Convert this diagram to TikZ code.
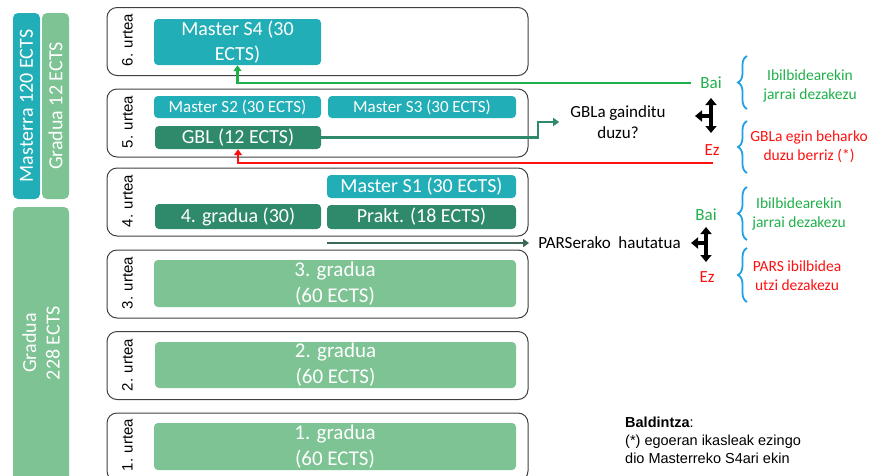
\documentclass[tikz,border=0pt]{standalone}
\usepackage{fontspec}
\setmainfont{Carlito}
\newfontfamily\arialf{Liberation Sans}
\usetikzlibrary{arrows.meta,decorations.pathreplacing}
\definecolor{tealA}{HTML}{22AEB6}
\definecolor{dgreenA}{HTML}{2F8A6B}
\definecolor{lgreenA}{HTML}{7DC393}
\definecolor{greenT}{HTML}{1FB04A}
\definecolor{redT}{HTML}{FF1010}
\definecolor{blueB}{HTML}{1E9FE6}
\definecolor{parsA}{HTML}{3A6A55}
\newcommand{\fs}[2]{\fontsize{#1}{#2}\selectfont}
\begin{document}
\begin{tikzpicture}[x=1pt,y=-1pt,
  yearbox/.style={draw=black!75, line width=1pt, rounded corners=10pt, fill=white,
    minimum width=421pt, minimum height=68pt, inner sep=0pt},
  fbox/.style={rounded corners=4pt, text=white, inner sep=0pt, align=center},
  mteal/.style={fbox, fill=tealA},
  mdark/.style={fbox, fill=dgreenA},
  mlight/.style={fbox, fill=lgreenA},
  ylab/.style={rotate=90, inner sep=0pt, font=\arialf\fs{15}{18}},
  sidebar/.style={rounded corners=5pt, text=white, inner sep=0pt, align=center, font=\fs{20}{23}},
  rtext/.style={align=center, inner sep=0pt, font=\fs{15.5}{19}},
  garrow/.style={draw=greenT, line width=2.2pt, -{Triangle[length=6pt,width=8pt]}},
  rarrow/.style={draw=redT, line width=2.2pt, -{Triangle[length=6pt,width=8pt]}},
  darrow/.style={draw=dgreenA, line width=2.2pt, -{Triangle[length=6pt,width=8pt]}},
  parrow/.style={draw=parsA, line width=2.4pt, -{Triangle[length=6pt,width=8pt]}},
  tarr/.style={draw=black, line width=3.8pt},
  tip/.style={-{Triangle[length=7pt,width=11pt]}},
  brc/.style={draw=blueB, line width=1.8pt, decorate, decoration={brace, amplitude=9pt}},
]
\useasboundingbox (0,0) rectangle (870,475);
\clip (0,0) rectangle (870,475);

% left bars
\node[sidebar, fill=tealA, minimum width=27pt, minimum height=186pt] (mbar) at (26.5,106) {};
\node[rotate=90, text=white, inner sep=0pt, font=\fs{20}{23}] (mbart) at (mbar.center) {Masterra 120 ECTS};
\node[sidebar, fill=lgreenA, minimum width=27pt, minimum height=186pt] (gbar) at (55.5,106) {};
\node[rotate=90, text=white, inner sep=0pt, font=\fs{20}{23}] (gbart) at (gbar.center) {Gradua 12 ECTS};
\node[sidebar, fill=lgreenA, minimum width=56pt, minimum height=280pt] (g228) at (41,347) {};
\node[rotate=90, text=white, inner sep=0pt, align=center, font=\fs{20}{23.5}] (g228t) at (41,343) {Gradua\\228 ECTS};

% year boxes
\node[yearbox] (y6) at (317.5,41.5) {};
\node[yearbox] (y5) at (317.5,123) {};
\node[yearbox] (y4) at (317.5,202) {};
\node[yearbox] (y3) at (317.5,284) {};
\node[yearbox] (y2) at (317.5,365.5) {};
\node[yearbox] (y1) at (317.5,447) {};

\node[ylab] (l6) at (127.5,40) {6. urtea};
\node[ylab] (l5) at (127.5,122) {5. urtea};
\node[ylab] (l4) at (127.5,201) {4. urtea};
\node[ylab] (l3) at (127.5,283) {3. urtea};
\node[ylab] (l2) at (127.5,365) {2. urtea};
\node[ylab] (l1) at (127.5,445) {1. urtea};

% inner boxes
\node[mteal, minimum width=167pt, minimum height=46pt, font=\fs{20}{25}] (s4) at (237.5,42) {Master S4 (30\\ECTS)};
\node[mteal, minimum width=167pt, minimum height=22pt, font=\fs{17}{20}] (s2) at (237.5,107) {Master S2 (30 ECTS)};
\node[mteal, minimum width=188pt, minimum height=22pt, font=\fs{17}{20}] (s3) at (422,107) {Master S3 (30 ECTS)};
\node[mdark, minimum width=166pt, minimum height=23pt, font=\fs{20}{24}] (gbl) at (238,137.5) {GBL (12 ECTS)};
\node[mteal, minimum width=189pt, minimum height=23pt, font=\fs{20}{24}] (s1) at (421.5,186.5) {Master S1 (30 ECTS)};
\node[mdark, minimum width=166pt, minimum height=25pt, font=\fs{20}{24}] (g4) at (238,216.5) {4. gradua (30)};
\node[mdark, minimum width=189pt, minimum height=24pt, font=\fs{20}{24}] (prakt) at (421.5,217) {Prakt. (18 ECTS)};
\node[mlight, minimum width=362pt, minimum height=47pt, font=\fs{21}{26}] (g3) at (335,283.5) {3. gradua\\(60 ECTS)};
\node[mlight, minimum width=361pt, minimum height=46pt, font=\fs{21}{26}] (g2) at (335.5,365) {2. gradua\\(60 ECTS)};
\node[mlight, minimum width=362pt, minimum height=47pt, font=\fs{21}{26}] (g1) at (335,446.5) {1. gradua\\(60 ECTS)};

% question texts
\node[align=center, inner sep=0pt, font=\fs{17}{21}] (q) at (618,122) {GBLa gainditu\\duzu?};
\node[inner sep=0pt, font=\fs{17}{20}] (pars) at (609.5,243) {PARSerako\ \ hautatua};

% Bai / Ez
\node[inner sep=0pt, text=greenT, font=\fs{17}{20}] (bai1) at (711,83) {Bai};
\node[inner sep=0pt, text=redT, font=\fs{17}{20}] (ez1) at (712,150) {Ez};
\node[inner sep=0pt, text=greenT, font=\fs{17}{20}] (bai2) at (706,215) {Bai};
\node[inner sep=0pt, text=redT, font=\fs{17}{20}] (ez2) at (707,277) {Ez};

% right texts
\node[rtext, text=greenT] (r1) at (810,86) {Ibilbidearekin\\jarrai dezakezu};
\node[rtext, text=redT] (r2) at (809,147) {GBLa egin beharko\\duzu berriz (*)};
\node[rtext, text=greenT] (r3) at (799,214) {Ibilbidearekin\\jarrai dezakezu};
\node[rtext, text=redT] (r4) at (797,275.5) {PARS ibilbidea\\utzi dezakezu};

% braces
\draw[brc] (747,109) -- (747,56);
\draw[brc] (747,173) -- (747,121);
\draw[brc] (747,240) -- (747,187);
\draw[brc] (747,302) -- (747,248);

% connectors
\coordinate (rstart) at (713,163);
\draw[garrow] ([xshift=-9pt]bai1.west) -| (s4.south);
\draw[rarrow] (rstart) -| (gbl.south);
\draw[darrow, shorten >=11pt] (gbl.east) -- ++(217,0) |- (q.west);
\draw[parrow, shorten >=9pt] (prakt.west |- pars.west) -- (pars.west);

% T arrows
\coordinate (t1top) at (711,98);
\coordinate (t1bot) at (711,133);
\coordinate (t1mid) at (711,116);
\coordinate (t1tip) at (695,116);
\draw[tarr, {Triangle[length=7pt,width=11pt]}-{Triangle[length=7pt,width=11pt]}] (t1top) -- (t1bot);
\draw[tarr, tip] (t1mid) -- (t1tip);
\coordinate (t2top) at (706,227);
\coordinate (t2bot) at (706,262);
\coordinate (t2mid) at (706,243);
\coordinate (t2tip) at (691,243);
\draw[tarr, {Triangle[length=7pt,width=11pt]}-{Triangle[length=7pt,width=11pt]}] (t2top) -- (t2bot);
\draw[tarr, tip] (t2mid) -- (t2tip);

% condition
\node[anchor=north west, align=left, inner sep=0pt, font=\arialf\fs{14.5}{18}] (cond) at (625,417)
  {\textbf{Baldintza}:\\(*) egoeran ikasleak ezingo\\dio Masterreko S4ari ekin};
\end{tikzpicture}
\end{document}
